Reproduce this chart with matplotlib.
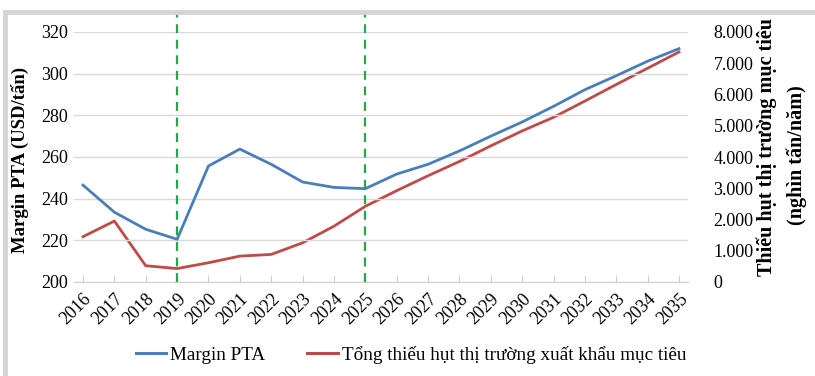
import matplotlib
matplotlib.use("Agg")
import matplotlib.pyplot as plt
from matplotlib.patches import Rectangle
from matplotlib.lines import Line2D

years = list(range(2016, 2036))
margin_pta = [246.5, 233.5, 225.3, 220.5, 255.7, 263.8, 256.5, 248.0, 245.4, 244.8,
              251.8, 256.5, 262.9, 270.0, 276.8, 284.3, 292.3, 299.0, 306.0, 312.0]
thieu_hut = [1450, 1950, 520, 430, 616, 829, 882, 1254, 1785, 2422,
             2922, 3400, 3857, 4356, 4834, 5270, 5790, 6320, 6840, 7360]
marker_years = [2019, 2025]
left_ticks = [200, 220, 240, 260, 280, 300, 320]
right_ticks = [0, 1000, 2000, 3000, 4000, 5000, 6000, 7000, 8000]
right_labels = ["0", "1.000", "2.000", "3.000", "4.000", "5.000", "6.000", "7.000", "8.000"]

BLUE = "#4a7ebb"
RED = "#be4b48"
GREEN = "#22a84a"
SERIF = ["Liberation Serif", "DejaVu Serif"]

plt.rcParams["font.family"] = SERIF

fig = plt.figure(figsize=(8.15, 3.76), dpi=100)
# outer grey frame
fig.patches.append(Rectangle((5 / 815, -0.05), 1.0, 1 - 12 / 376 + 0.05,
                             transform=fig.transFigure, fill=False,
                             edgecolor="#d4d4d4", linewidth=3.5))

ax = fig.add_axes([73.6 / 815, 1 - 282 / 376, (688.4 - 73.6) / 815, 250 / 376])
ax2 = ax.twinx()

ax.set_xlim(2015.7, 2035.3)
ax.set_ylim(200, 320)
ax2.set_ylim(0, 8000)

ax.set_yticks(left_ticks)
ax.yaxis.grid(True, color="#d9d9d9", linewidth=1)
ax.set_axisbelow(True)
ax2.set_yticks(right_ticks)
ax2.set_yticklabels(right_labels)

for a in (ax, ax2):
    for s in a.spines.values():
        s.set_visible(False)
ax.spines["bottom"].set_visible(True)
ax.spines["bottom"].set_color("#d0d0d0")

ax.set_xticks(years)
ax.set_xticklabels([str(y) for y in years], rotation=45, ha="right",
                   rotation_mode="anchor", fontsize=13)
ax.tick_params(axis="x", direction="in", length=5, color="#d0d0d0", pad=6)
ax.tick_params(axis="y", length=0, labelsize=13, pad=4)
ax2.tick_params(axis="y", length=0, labelsize=13, pad=18)

for yr in marker_years:
    ax.axvline(yr, ymin=0, ymax=1.07, color=GREEN, linestyle=(0, (4, 3)),
               linewidth=1.6, zorder=1, clip_on=False)

ax2.plot(years, thieu_hut, color=RED, linewidth=2.0, zorder=3)
ax.plot(years, margin_pta, color=BLUE, linewidth=2.0, zorder=4)
ax.set_zorder(ax2.get_zorder() + 1)
ax.patch.set_visible(False)

fig.text(20 / 815, 1 - 160 / 376, "Margin PTA (USD/tấn)", rotation=90,
         ha="center", va="center", fontsize=13.5, fontweight="bold")
fig.text(767 / 815, 1 - 147 / 376, "Thiếu hụt thị trường mục tiêu", rotation=90,
         ha="center", va="center", fontsize=14.5, fontweight="bold")
fig.text(797 / 815, 1 - 155 / 376, "(nghìn tấn/năm)", rotation=90,
         ha="center", va="center", fontsize=14.5, fontweight="bold")

handles = [Line2D([], [], color=BLUE, linewidth=2.2),
           Line2D([], [], color=RED, linewidth=2.2)]
fig.legend(handles, ["Margin PTA", "Tổng thiếu hụt thị trường xuất khẩu mục tiêu"],
           loc="center", bbox_to_anchor=(411 / 815, 1 - 355 / 376), ncol=2,
           frameon=False, fontsize=13.8, handlelength=1.6, handletextpad=0.2,
           columnspacing=2.2)

fig.savefig("out.png", dpi=100, facecolor="white")
